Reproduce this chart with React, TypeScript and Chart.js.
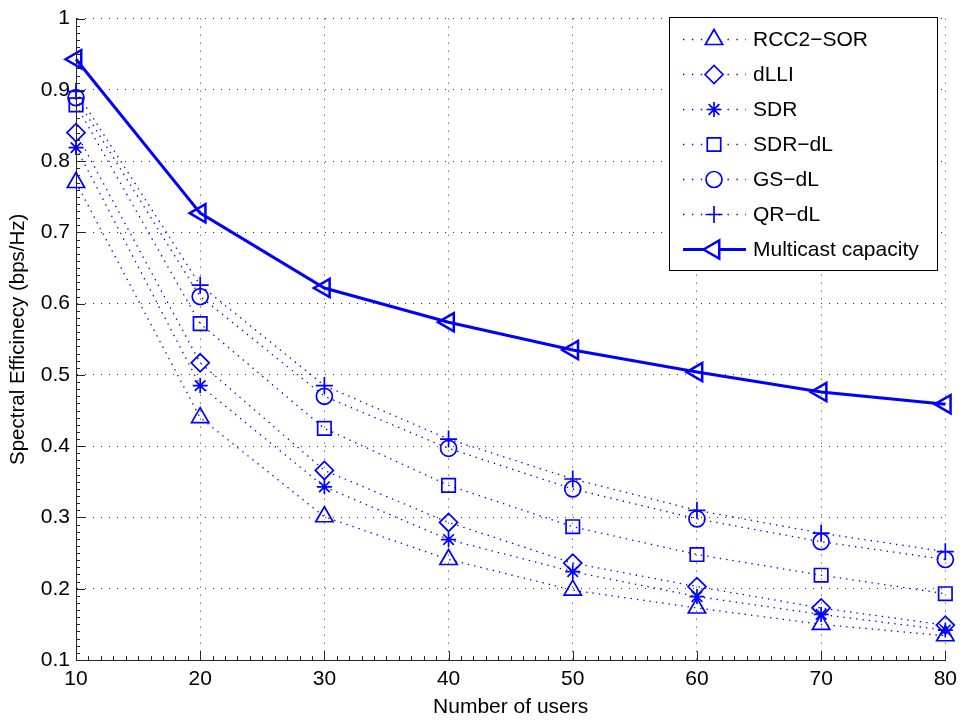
import React, { useEffect, useRef } from 'react';
import { Chart, registerables } from 'chart.js';
import { drawPoint } from 'chart.js/helpers';

Chart.register(...registerables);

// ---- data ----
const users = [10, 20, 30, 40, 50, 60, 70, 80];
const rcc2Sor = [0.770, 0.440, 0.301, 0.241, 0.198, 0.173, 0.150, 0.134];
const dLLI = [0.840, 0.517, 0.366, 0.293, 0.236, 0.203, 0.173, 0.149];
const sdr = [0.819, 0.485, 0.343, 0.269, 0.224, 0.189, 0.164, 0.142];
const sdrDL = [0.879, 0.572, 0.425, 0.345, 0.287, 0.248, 0.219, 0.193];
const gsDL = [0.889, 0.610, 0.470, 0.397, 0.340, 0.298, 0.266, 0.241];
const qrDL = [0.898, 0.626, 0.485, 0.410, 0.354, 0.310, 0.278, 0.252];
const multicast = [0.943, 0.727, 0.622, 0.574, 0.535, 0.504, 0.476, 0.459];

const seriesNames = ['RCC2\u2212SOR', 'dLLI', 'SDR', 'SDR\u2212dL', 'GS\u2212dL', 'QR\u2212dL', 'Multicast capacity'];
const xTickValues = [10, 20, 30, 40, 50, 60, 70, 80];
const yTickValues = [0.1, 0.2, 0.3, 0.4, 0.5, 0.6, 0.7, 0.8, 0.9, 1];
const xLabel = 'Number of users';
const yLabel = 'Spectral Efficinecy (bps/Hz)';

const BLUE = '#0000ff';
const FONT = '"Liberation Sans", Arial, Helvetica, sans-serif';
const TRANSPARENT = 'rgba(0,0,0,0)';

function dotted(label: string, data: number[], pointStyle: string, radius: number) {
  return {
    label,
    data: users.map((u, i) => ({ x: u, y: data[i] })),
    borderColor: BLUE,
    borderWidth: 1.3,
    borderDash: [1.4, 5],
    pointStyle,
    pointRadius: radius,
    pointBorderWidth: 1.7,
    pointBorderColor: BLUE,
    pointBackgroundColor: TRANSPARENT,
    pointRotation: 0,
    clip: false as const,
    tension: 0,
  };
}

const axisDecor = {
  id: 'axisDecor',
  afterDraw(chart: any) {
    const { ctx, chartArea: a, scales } = chart;
    const x = scales.x;
    const y = scales.y;
    ctx.save();
    ctx.strokeStyle = '#262626';
    ctx.lineWidth = 1;
    ctx.beginPath();
    for (let v = 10; v <= 80; v += 1) {
      const px = Math.round(x.getPixelForValue(v)) + 0.5;
      const len = v % 10 === 0 ? 9 : 4;
      ctx.moveTo(px, a.bottom);
      ctx.lineTo(px, a.bottom - len);
    }
    for (let i = 10; i <= 100; i += 1) {
      const py = Math.round(y.getPixelForValue(i / 100)) + 0.5;
      const len = i % 10 === 0 ? 9 : 4;
      ctx.moveTo(a.left, py);
      ctx.lineTo(a.left + len, py);
    }
    ctx.stroke();
    ctx.restore();

    // legend
    const bx = 669.5, by = 17.5, bw = 268, bh = 253;
    ctx.save();
    ctx.fillStyle = '#ffffff';
    ctx.fillRect(bx, by, bw, bh);
    ctx.strokeStyle = '#000000';
    ctx.lineWidth = 1;
    ctx.strokeRect(bx, by, bw, bh);
    chart.data.datasets.forEach((ds: any, i: number) => {
      const cy = 39.5 + i * 35;
      ctx.save();
      ctx.strokeStyle = ds.borderColor;
      ctx.lineWidth = ds.borderWidth;
      ctx.setLineDash(ds.borderDash && ds.borderDash.length ? [1.4, 7.5] : []);
      ctx.beginPath();
      ctx.moveTo(683, cy);
      ctx.lineTo(746, cy);
      ctx.stroke();
      ctx.restore();
      ctx.save();
      ctx.strokeStyle = ds.pointBorderColor;
      ctx.fillStyle = '#ffffff';
      ctx.lineWidth = ds.pointBorderWidth;
      drawPoint(ctx, {
        pointStyle: ds.pointStyle,
        rotation: ds.pointRotation || 0,
        radius: ds.pointRadius,
        borderWidth: ds.pointBorderWidth,
      } as any, 714, cy);
      ctx.restore();
      ctx.fillStyle = '#000000';
      ctx.font = `21px ${FONT}`;
      ctx.textBaseline = 'middle';
      ctx.textAlign = 'left';
      ctx.fillText(ds.label, 753, cy + 1);
    });
    ctx.restore();
  },
};

export default function App() {
  const ref = useRef<HTMLCanvasElement | null>(null);

  useEffect(() => {
    if (!ref.current) return;
    const datasets: any[] = [
      dotted(seriesNames[0], rcc2Sor, 'triangle', 10),
      dotted(seriesNames[1], dLLI, 'rectRot', 9),
      dotted(seriesNames[2], sdr, 'star', 7.5),
      dotted(seriesNames[3], sdrDL, 'rect', 9.5),
      dotted(seriesNames[4], gsDL, 'circle', 8),
      dotted(seriesNames[5], qrDL, 'cross', 8.5),
      {
        label: seriesNames[6],
        data: users.map((u, i) => ({ x: u, y: multicast[i] })),
        borderColor: BLUE,
        borderWidth: 3,
        borderDash: [],
        pointStyle: 'triangle',
        pointRotation: -90,
        pointRadius: 10.5,
        pointBorderWidth: 2.5,
        pointBorderColor: BLUE,
        pointBackgroundColor: TRANSPARENT,
        clip: false,
        tension: 0,
      },
    ];

    const chart = new Chart(ref.current, {
      type: 'line',
      data: { datasets },
      plugins: [axisDecor],
      options: {
        animation: false,
        responsive: true,
        maintainAspectRatio: false,
        layout: { padding: { top: 13, right: 16, left: 0, bottom: 0 } },
        plugins: {
          legend: { display: false },
          tooltip: { enabled: false },
        },
        scales: {
          x: {
            type: 'linear',
            min: 10,
            max: 80,
            afterBuildTicks: (s: any) => { s.ticks = xTickValues.map((v) => ({ value: v })); },
            afterFit: (s: any) => { s.height = 62; },
            ticks: {
              color: '#000',
              font: { family: FONT, size: 21 },
              padding: 7,
              maxRotation: 0,
              callback: (v: any) => String(v),
            },
            grid: { color: 'rgba(0,0,0,0.8)', lineWidth: 1, drawTicks: false },
            border: { display: true, color: '#262626', width: 1, dash: [1, 7] },
            title: {
              display: true,
              text: xLabel,
              color: '#000',
              font: { family: FONT, size: 21 },
              padding: { top: 0, bottom: 2 },
            },
          },
          y: {
            type: 'linear',
            min: 0.1,
            max: 1,
            afterBuildTicks: (s: any) => { s.ticks = yTickValues.map((v) => ({ value: v })); },
            afterFit: (s: any) => { s.width = 76; },
            ticks: {
              color: '#000',
              font: { family: FONT, size: 21 },
              padding: 6,
              callback: (v: any) => String(Number(Number(v).toFixed(2))),
            },
            grid: { color: 'rgba(0,0,0,0.8)', lineWidth: 1, drawTicks: false },
            border: { display: true, color: '#262626', width: 1, dash: [1, 7] },
            title: {
              display: true,
              text: yLabel,
              color: '#000',
              font: { family: FONT, size: 20.5 },
              padding: { top: 6, bottom: 0 },
            },
          },
        },
      } as any,
    });
    return () => chart.destroy();
  }, []);

  return (
    <div style={{ position: 'fixed', left: 0, top: 0, width: 964, height: 722, background: '#fff' }}>
      <canvas ref={ref} />
    </div>
  );
}
